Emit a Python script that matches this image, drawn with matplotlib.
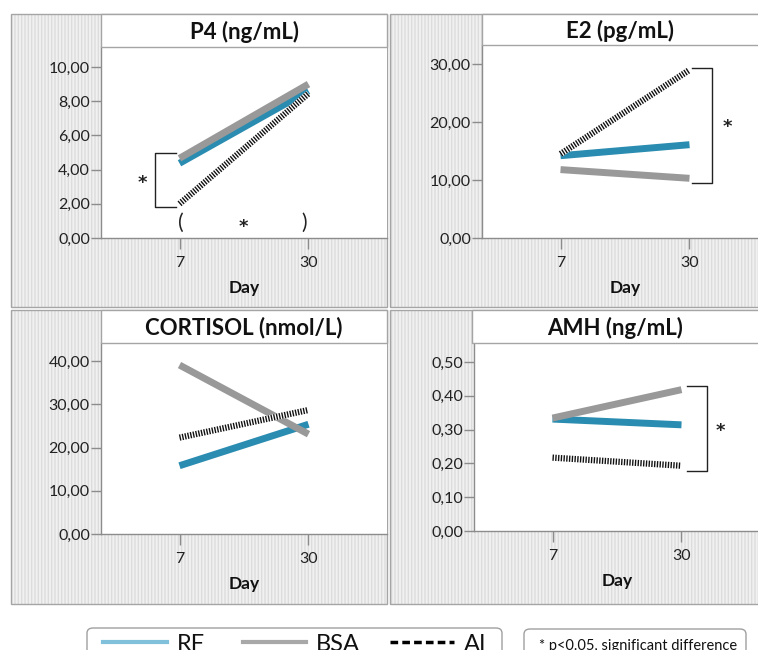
import matplotlib
matplotlib.use('Agg')
import matplotlib.pyplot as plt
from matplotlib.patches import Rectangle, FancyBboxPatch
from matplotlib.ticker import FuncFormatter, MultipleLocator
from matplotlib.lines import Line2D

plt.rcParams['font.family'] = ['Lato', 'DejaVu Sans']

# ---------------- data ----------------
days = [7, 30]
p4_rf = [4.37, 8.6]
p4_bsa = [4.66, 9.0]
p4_ai = [2.0, 8.45]
e2_rf = [14.2, 16.1]
e2_bsa = [11.8, 10.3]
e2_ai = [14.5, 29.0]
cort_rf = [15.8, 25.4]
cort_bsa = [39.1, 23.1]
cort_ai = [22.3, 28.7]
amh_rf = [0.331, 0.314]
amh_bsa = [0.334, 0.418]
amh_ai = [0.217, 0.193]
titles = ['P4 (ng/mL)', 'E2 (pg/mL)', 'CORTISOL (nmol/L)', 'AMH (ng/mL)']
x_label = 'Day'
legend_labels = ['RF', 'BSA', 'AI']
note_text = '* p<0.05, significant difference'

# ---------------- style ----------------
C_RF = '#2a8cb0'
C_BSA = '#999999'
C_AI = '#111111'
L_RF = '#80c0da'
L_BSA = '#a8a8a8'
GRID = '#8c8c8c'

W, H = 758, 650
fig = plt.figure(figsize=(W / 100, H / 100), dpi=100)


def rect(x0, y0, x1, y1):
    return [x0 / W, 1 - y1 / H, (x1 - x0) / W, (y1 - y0) / H]


def fig_rect(x0, y0, x1, y1, **kw):
    r = Rectangle((x0 / W, 1 - y1 / H), (x1 - x0) / W, (y1 - y0) / H,
                  transform=fig.transFigure, **kw)
    fig.add_artist(r)
    return r


panels = [
    dict(frame=(11, 14, 387, 307), tbox=(101, 14, 387, 47), ax=(101, 47, 387, 238),
         ylim=11.17, step=2, data=(p4_rf, p4_bsa, p4_ai)),
    dict(frame=(390, 14, 775, 307), tbox=(482, 14, 775, 45), ax=(482, 45, 768, 238),
         ylim=33.3, step=10, data=(e2_rf, e2_bsa, e2_ai)),
    dict(frame=(11, 310, 387, 604), tbox=(101, 310, 387, 343), ax=(101, 343, 387, 534),
         ylim=44.2, step=10, data=(cort_rf, cort_bsa, cort_ai)),
    dict(frame=(390, 310, 775, 604), tbox=(472, 310, 775, 343), ax=(474, 343, 760, 531),
         ylim=0.556, step=0.1, data=(amh_rf, amh_bsa, amh_ai)),
]

fmt = FuncFormatter(lambda v, p: f'{v:.2f}'.replace('.', ','))
axes = []
for i, pn in enumerate(panels):
    # stippled background
    fig_rect(*pn['frame'], facecolor='#f1f1f1', edgecolor='#dcdcdc', hatch='|||||',
             lw=0, zorder=-3)
    fig_rect(*pn['frame'], facecolor='none', edgecolor='#a5a5a5', lw=1.0, zorder=-2)
    ax = fig.add_axes(rect(*pn['ax']))
    ax.set_facecolor('white')
    ax.set_xlim(-7, 44)
    ax.set_ylim(0, pn['ylim'])
    for s in ['top', 'right']:
        ax.spines[s].set_visible(False)
    for s in ['left', 'bottom']:
        ax.spines[s].set_color(GRID)
        ax.spines[s].set_linewidth(1.0)
    ax.yaxis.set_major_locator(MultipleLocator(pn['step']))
    ax.yaxis.set_major_formatter(fmt)
    ax.set_xticks(days)
    ax.set_xticklabels([str(d) for d in days])
    ax.tick_params(axis='y', direction='out', length=7.5, width=1, color=GRID,
                   labelsize=11.5, labelcolor='#222222', pad=0.5)
    ax.tick_params(axis='x', direction='out', length=8, width=1, color=GRID,
                   labelsize=11.5, labelcolor='#222222', pad=5)
    ax.set_xlabel(x_label, fontsize=12.5, fontweight='bold', labelpad=7, color='#111111')
    rf, bsa, ai = pn['data']
    ax.plot(days, rf, color=C_RF, lw=5, solid_capstyle='butt', zorder=3)
    ax.plot(days, bsa, color=C_BSA, lw=5, solid_capstyle='butt', zorder=4)
    ax.plot(days, ai, color='white', lw=4.5, solid_capstyle='butt', zorder=5)
    ax.plot(days, ai, color=C_AI, lw=4.5, linestyle=(0, (0.22, 0.22)),
            dash_capstyle='butt', zorder=6)
    # title box
    fig_rect(*pn['tbox'], facecolor='white', edgecolor='#a5a5a5', lw=1.0, zorder=2)
    tx0, ty0, tx1, ty1 = pn['tbox']
    tx1v = min(tx1, W)
    fig.text(((tx0 + tx1v) / 2) / W, 1 - ((ty0 + ty1) / 2 + 1.5) / H, titles[i],
             ha='center', va='center', fontsize=16, fontweight='bold', color='#111111',
             zorder=3)
    axes.append(ax)

bk = dict(color='#222222', lw=1.0, clip_on=False, zorder=7)
star = dict(ha='center', va='center', fontsize=13, fontweight='bold', color='#222222',
            family=['DejaVu Sans'])
paren = dict(ha='center', va='center', fontsize=15, fontweight='normal', color='#222222')

# P4 brackets
a = axes[0]
a.plot([6.3, 2.7, 2.7, 6.3], [4.95, 4.95, 1.8, 1.8], **bk)
a.text(0.3, 3.2, '*', **star)
a.text(7.3, 0.9, '(', **paren)
a.text(29.3, 0.9, ')', **paren)
a.text(18.4, 0.65, '*', **star)

# E2 bracket
a = axes[1]
a.plot([30.4, 34.1, 34.1, 30.4], [29.4, 29.4, 9.5, 9.5], **bk)
a.text(36.8, 19.2, '*', **star)

# AMH bracket
a = axes[3]
a.plot([31.0, 34.6, 34.6, 31.0], [0.43, 0.43, 0.176, 0.176], **bk)
a.text(37.0, 0.295, '*', **star)

# legend (manual)
lb = FancyBboxPatch((87 / W, 1 - 672 / H), 415 / W, 44 / H, transform=fig.transFigure,
                    boxstyle='round,pad=0,rounding_size=0.008', facecolor='white',
                    edgecolor='#a0a0a0', lw=1.0)
fig.add_artist(lb)
handles = [(103, 167, L_RF, '-', 3), (243, 306, L_BSA, '-', 3),
           (390, 454, 'black', (0, (2.2, 1.2)), 2.5)]
text_x = [177, 316, 464]
for (x0, x1, c, ls, lw), tx, lab in zip(handles, text_x, legend_labels):
    fig.add_artist(Line2D([x0 / W, x1 / W], [1 - 642 / H, 1 - 642 / H],
                          transform=fig.transFigure, color=c, linestyle=ls, lw=lw))
    fig.text(tx / W, 1 - 651 / H, lab, ha='left', va='baseline', fontsize=17,
             color='#111111')

nb = FancyBboxPatch((524 / W, 1 - 672 / H), 222 / W, 43 / H, transform=fig.transFigure,
                    boxstyle='round,pad=0,rounding_size=0.008', facecolor='white',
                    edgecolor='#a0a0a0', lw=1.0)
fig.add_artist(nb)
fig.text(638 / W, 1 - 646 / H, note_text, ha='center', va='center', fontsize=10.5,
         color='#111111')

fig.savefig('out.png', dpi=100)
